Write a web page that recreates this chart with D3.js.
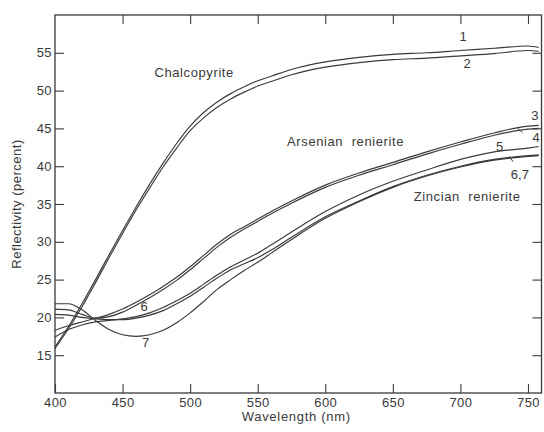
<!DOCTYPE html>
<html><head><meta charset="utf-8">
<script src="https://cdn.jsdelivr.net/npm/d3@7"></script>
<style>
html,body{margin:0;padding:0;background:#fff;}
svg text{font-family:"Liberation Sans",Arial,sans-serif;fill:#3a3a3a;}
</style></head>
<body>
<svg id="chart" width="544" height="432"></svg>
<script>
const wavelengths = [400,410,420,430,440,450,460,470,480,490,500,510,520,530,540,550,560,575,600,625,650,675,700,725,750,758];
const chalcopyrite1 = [16.1,18.8,21.8,25.0,28.3,31.5,34.6,37.6,40.4,43.0,45.3,47.1,48.5,49.6,50.5,51.3,51.9,52.8,53.8,54.4,54.8,55.0,55.3,55.6,55.9,55.7];
const chalcopyrite2 = [15.9,18.5,21.4,24.6,27.9,31.1,34.2,37.1,39.9,42.4,44.7,46.4,47.8,48.9,49.8,50.6,51.2,52.1,53.1,53.7,54.1,54.3,54.6,54.9,55.3,55.2];
const arsenian3 = [18.3,18.9,19.4,19.9,20.4,21.1,22.0,23.0,24.1,25.3,26.7,28.2,29.7,31.0,32.0,33.0,34.0,35.4,37.5,39.1,40.5,41.9,43.2,44.4,45.3,45.4];
const arsenian4 = [21.1,21.0,20.4,19.9,20.1,20.7,21.6,22.6,23.7,24.9,26.3,27.8,29.3,30.6,31.7,32.7,33.7,35.1,37.2,38.8,40.2,41.6,42.9,44.1,44.9,45.0];
const zincian5 = [17.4,18.4,19.0,19.4,19.6,19.8,20.1,20.6,21.3,22.2,23.2,24.4,25.6,26.7,27.6,28.5,29.6,31.3,34.0,36.2,38.0,39.5,40.9,41.9,42.4,42.6];
const zincian6 = [20.4,20.3,20.0,19.8,19.7,19.7,19.9,20.3,20.9,21.8,22.8,24.0,25.2,26.3,27.1,27.9,28.9,30.6,33.3,35.4,37.3,38.8,40.0,40.9,41.4,41.5];
const zincian7 = [21.8,21.8,21.0,19.6,18.4,17.7,17.5,17.7,18.3,19.3,20.6,22.1,23.7,25.0,26.2,27.3,28.5,30.3,33.1,35.3,37.2,38.7,39.9,40.8,41.3,41.4];
const xTicks = [400,450,500,550,600,650,700,750];
const yTicks = [15,20,25,30,35,40,45,50,55];
const seriesList = [chalcopyrite1, chalcopyrite2, arsenian3, arsenian4, zincian5, zincian6, zincian7];
const groupLabels = [
  {text:"Chalcopyrite", w:503, v:52.3},
  {text:"Arsenian  renierite", w:615, v:43.1},
  {text:"Zincian  renierite", w:705, v:35.8}
];
const curveLabels = [
  {text:"1", w:702, v:57.0},
  {text:"2", w:705, v:53.5},
  {text:"3", w:755, v:46.5},
  {text:"4", w:756, v:43.6},
  {text:"5", w:729, v:42.4},
  {text:"6,7", w:744, v:38.8},
  {text:"6", w:466, v:21.3},
  {text:"7", w:467, v:16.6}
];

const svg = d3.select("#chart");
const x = d3.scaleLinear().domain([400,760]).range([55,541.5]);
const y = d3.scaleLinear().domain([10,60]).range([393,15]);
const stroke = "#3a3a3a";

// frame
svg.append("rect").attr("x",x(400)).attr("y",y(60)).attr("width",x(760)-x(400)).attr("height",y(10)-y(60))
  .attr("fill","none").attr("stroke",stroke).attr("stroke-width",1.3);

const tl = 9;
const font = "13px";
const gb = svg.append("g").attr("transform",`translate(0,${y(10)})`)
  .call(d3.axisBottom(x).tickValues(xTicks).tickSize(-tl).tickPadding(5));
const gt = svg.append("g").attr("transform",`translate(0,${y(60)})`)
  .call(d3.axisTop(x).tickValues(xTicks.slice(1)).tickSize(-tl).tickFormat(""));
const gl = svg.append("g").attr("transform",`translate(${x(400)},0)`)
  .call(d3.axisLeft(y).tickValues(yTicks).tickSize(-tl).tickPadding(3));
const gr = svg.append("g").attr("transform",`translate(${x(760)},0)`)
  .call(d3.axisRight(y).tickValues(yTicks).tickSize(-tl).tickFormat(""));
[gb,gt,gl,gr].forEach(g=>{
  g.select(".domain").remove();
  g.selectAll(".tick line").attr("stroke",stroke).attr("stroke-width",1.1);
  g.selectAll("text").attr("font-size",font).attr("fill","#3a3a3a")
    .style("font-family","'Liberation Sans',Arial,sans-serif").style("letter-spacing","0.4px");
});

// curves
const line = d3.line().x((d,i)=>x(wavelengths[i])).y(d=>y(d)).curve(d3.curveMonotoneX);
svg.append("g").selectAll("path").data(seriesList).join("path")
  .attr("d",line).attr("fill","none").attr("stroke",stroke).attr("stroke-width",1.15);

// group labels
svg.append("g").selectAll("text").data(groupLabels).join("text")
  .attr("x",d=>x(d.w)).attr("y",d=>y(d.v)).attr("text-anchor","middle")
  .attr("font-size","13px").style("letter-spacing","0.6px").style("white-space","pre")
  .attr("dominant-baseline","middle").text(d=>d.text);

// curve number labels
svg.append("g").selectAll("text").data(curveLabels).join("text")
  .attr("x",d=>x(d.w)).attr("y",d=>y(d.v)).attr("text-anchor","middle")
  .attr("dominant-baseline","middle").attr("font-size","13px").text(d=>d.text);

// leader lines for 4 and 6,7
const leaders = [[742,45.1,746,44.4],[736,41.3,739,40.6]];
svg.append("g").selectAll("line").data(leaders).join("line")
  .attr("x1",d=>x(d[0])).attr("y1",d=>y(d[1])).attr("x2",d=>x(d[2])).attr("y2",d=>y(d[3]))
  .attr("stroke",stroke).attr("stroke-width",1);

// axis titles
svg.append("text").attr("x",(x(400)+x(760))/2 - 2).attr("y",421).attr("text-anchor","middle")
  .attr("font-size","13px").style("letter-spacing","0.7px").text("Wavelength (nm)");
svg.append("text").attr("transform",`translate(21,${y(35)}) rotate(-90)`).attr("text-anchor","middle")
  .attr("font-size","13px").style("letter-spacing","0.5px").text("Reflectivity (percent)");
</script>
</body></html>
